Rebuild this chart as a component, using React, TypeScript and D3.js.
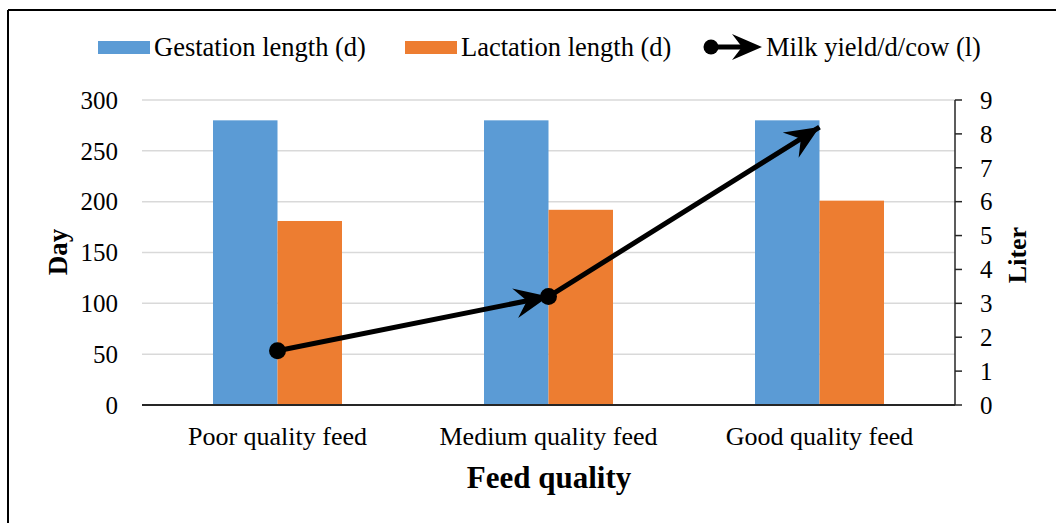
import React from "react";
import * as d3 from "d3";

const categories = ["Poor quality feed", "Medium quality feed", "Good quality feed"];
const gestation = [280, 280, 280];
const lactation = [181, 192, 201];
const milkYield = [1.6, 3.2, 8.2];
const leftTicks = [0, 50, 100, 150, 200, 250, 300];
const rightTicks = [0, 1, 2, 3, 4, 5, 6, 7, 8, 9];
const seriesNames = ["Gestation length (d)", "Lactation length (d)", "Milk yield/d/cow (l)"];
const colors = ["#5B9BD5", "#ED7D31", "#000000"];

const W = 1056, H = 523;
const plot = { left: 142, right: 955, top: 100, bottom: 405 };
const FONT = "'Liberation Serif', 'Times New Roman', serif";

function arrowPath(x1: number, y1: number, x2: number, y2: number, len = 34, half = 15, notch = 12) {
  const dx = x2 - x1, dy = y2 - y1;
  const L = Math.hypot(dx, dy);
  const ux = dx / L, uy = dy / L;
  const px = -uy, py = ux;
  const bx = x2 - ux * len, by = y2 - uy * len;
  const nx = x2 - ux * (len - notch), ny = y2 - uy * (len - notch);
  const pts = [
    [x2, y2],
    [bx + px * half, by + py * half],
    [nx, ny],
    [bx - px * half, by - py * half],
  ];
  return "M" + pts.map((p) => p.join(",")).join("L") + "Z";
}

export default function App() {
  const x0 = d3.scaleBand<string>().domain(categories).range([plot.left, plot.right]).paddingInner(0).paddingOuter(0);
  const yL = d3.scaleLinear().domain([0, 300]).range([plot.bottom, plot.top]);
  const yR = d3.scaleLinear().domain([0, 9]).range([plot.bottom, plot.top]);
  const bw = x0.bandwidth();
  const barW = bw * 0.238;
  const cx = (c: string) => (x0(c) as number) + bw / 2;

  const pts = categories.map((c, i) => [cx(c), yR(milkYield[i])] as [number, number]);
  const line = d3.line<[number, number]>()(pts) as string;

  return (
    <svg width={W} height={H} style={{ position: "absolute", left: 0, top: 0, background: "#fff" }} fontFamily={FONT}>
      <rect x={0} y={0} width={W} height={H} fill="#fff" />
      {/* frame */}
      <line x1={8} y1={10} x2={W} y2={10} stroke="#000" strokeWidth={2} />
      <line x1={8} y1={10} x2={8} y2={H} stroke="#000" strokeWidth={2} />

      {/* gridlines */}
      {leftTicks.filter((t) => t > 0).map((t) => (
        <line key={t} x1={plot.left} x2={plot.right} y1={yL(t)} y2={yL(t)} stroke="#D9D9D9" strokeWidth={1.5} />
      ))}

      {/* bars */}
      {categories.map((c, i) => (
        <g key={c}>
          <rect x={cx(c) - barW} y={yL(gestation[i])} width={barW} height={yL(0) - yL(gestation[i])} fill={colors[0]} />
          <rect x={cx(c)} y={yL(lactation[i])} width={barW} height={yL(0) - yL(lactation[i])} fill={colors[1]} />
        </g>
      ))}

      {/* x baseline */}
      <line x1={plot.left} x2={plot.right} y1={plot.bottom} y2={plot.bottom} stroke="#262626" strokeWidth={2} />

      {/* right axis */}
      <line x1={plot.right} x2={plot.right} y1={plot.top} y2={plot.bottom} stroke="#262626" strokeWidth={1.5} />
      {rightTicks.map((t) => (
        <g key={t}>
          <line x1={plot.right} x2={plot.right + 7} y1={yR(t)} y2={yR(t)} stroke="#262626" strokeWidth={1.5} />
          <text x={980} y={yR(t)} dy="0.35em" fontSize={25} fill="#000">{t}</text>
        </g>
      ))}

      {/* left tick labels */}
      {leftTicks.map((t) => (
        <text key={t} x={118} y={yL(t)} dy="0.35em" textAnchor="end" fontSize={25} fill="#000">{t}</text>
      ))}

      {/* category labels */}
      {categories.map((c) => (
        <text key={c} x={cx(c)} y={445} textAnchor="middle" fontSize={26} fill="#000">{c}</text>
      ))}

      {/* axis titles */}
      <text x={549} y={488} textAnchor="middle" fontSize={31} fontWeight="bold" fill="#000">Feed quality</text>
      <text transform={`translate(58,252) rotate(-90)`} textAnchor="middle" dy="0.35em" fontSize={27} fontWeight="bold" fill="#000">Day</text>
      <text transform={`translate(1017,255) rotate(-90)`} textAnchor="middle" dy="0.35em" fontSize={26} fontWeight="bold" fill="#000">Liter</text>

      {/* milk yield line */}
      <path d={line} fill="none" stroke="#000" strokeWidth={5} />
      {pts.slice(1).map((p, i) => (
        <path key={i} d={arrowPath(pts[i][0], pts[i][1], p[0], p[1])} fill="#000" />
      ))}
      {pts.slice(0, 2).map((p, i) => (
        <circle key={i} cx={p[0]} cy={p[1]} r={8.5} fill="#000" />
      ))}

      {/* legend */}
      <rect x={98} y={41} width={52} height={13} fill={colors[0]} />
      <text x={154} y={47} dy="0.35em" fontSize={26.5} fill="#000">{seriesNames[0]}</text>
      <rect x={405} y={41} width={52} height={13} fill={colors[1]} />
      <text x={461} y={47} dy="0.35em" fontSize={26.5} fill="#000">{seriesNames[1]}</text>
      <line x1={706} x2={742} y1={47} y2={47} stroke="#000" strokeWidth={5} />
      <path d={arrowPath(706, 47, 762, 47, 30, 13, 10)} fill="#000" />
      <circle cx={711} cy={47} r={7.5} fill="#000" />
      <text x={766} y={47} dy="0.35em" fontSize={26.5} fill="#000">{seriesNames[2]}</text>
    </svg>
  );
}
